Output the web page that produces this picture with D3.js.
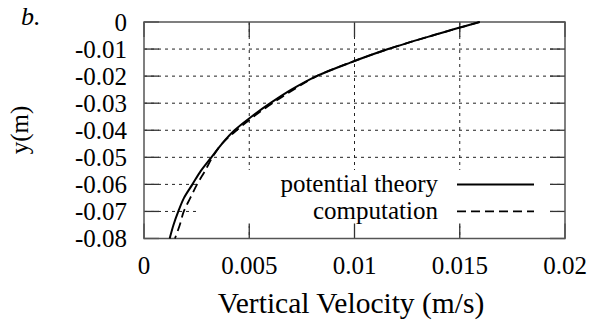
<!DOCTYPE html>
<html>
<head>
<meta charset="utf-8">
<script src="https://cdn.jsdelivr.net/npm/d3@7"></script>
<style>
  body { margin: 0; background: #fff; }
  svg text { font-family: "Liberation Serif", "DejaVu Serif", serif; }
</style>
</head>
<body>
<div id="chart"></div>
<script>
// depth (m) for both series
const depth = [0, -0.005, -0.01, -0.015, -0.02, -0.025, -0.03, -0.035, -0.04, -0.045,
               -0.05, -0.055, -0.06, -0.065, -0.07, -0.075, -0.08];
// vertical velocity (m/s)
const theory = [0.01595, 0.0137, 0.0116, 0.0098, 0.0082, 0.0070, 0.0060, 0.0051, 0.0043, 0.0037,
                0.0032, 0.0027, 0.0023, 0.0019, 0.00163, 0.0014, 0.00122];
const computation = [0.01595, 0.0137, 0.0116, 0.0098, 0.0082, 0.0071, 0.0061, 0.0052, 0.0044, 0.0037,
                     0.00325, 0.0029, 0.00252, 0.0022, 0.00189, 0.0017, 0.00147];
const xTicks = [0, 0.005, 0.01, 0.015, 0.02];
const yTicks = [0, -0.01, -0.02, -0.03, -0.04, -0.05, -0.06, -0.07, -0.08];
const legendNames = ["potential theory", "computation"];

const W = 593, H = 325;
const margin = {top: 22, right: 28, bottom: 86.5, left: 144};
const width = W - margin.left - margin.right;
const height = H - margin.top - margin.bottom;

const svg = d3.select("#chart").append("svg")
    .attr("width", W)
    .attr("height", H);

const g = svg.append("g")
    .attr("transform", `translate(${margin.left},${margin.top})`);

const x = d3.scaleLinear().domain([0, 0.02]).range([0, width]);
const y = d3.scaleLinear().domain([-0.08, 0]).range([height, 0]);

const fmt = d => d === 0 ? "0" : String(d);
const tickLen = 15;

// grid
g.selectAll(".hgrid")
    .data(yTicks.filter(d => d !== 0 && d !== -0.08))
    .join("line")
    .attr("x1", 0).attr("x2", width)
    .attr("y1", d => y(d)).attr("y2", d => y(d))
    .attr("stroke", "#222").attr("stroke-width", 1)
    .attr("stroke-dasharray", "3,4");

g.selectAll(".vgrid")
    .data(xTicks.filter(d => d !== 0 && d !== 0.02))
    .join("line")
    .attr("x1", d => x(d)).attr("x2", d => x(d))
    .attr("y1", 0).attr("y2", height)
    .attr("stroke", "#222").attr("stroke-width", 1)
    .attr("stroke-dasharray", "3,4");

// legend backdrop hides the grid
g.append("rect")
    .attr("x", 56).attr("y", 148)
    .attr("width", 348).attr("height", 56)
    .attr("fill", "#fff");

// tick marks on all four sides
const tickG = g.append("g").attr("stroke", "#333").attr("stroke-width", 1.3);
yTicks.forEach(d => {
  tickG.append("line").attr("x1", 0).attr("x2", tickLen).attr("y1", y(d)).attr("y2", y(d));
  tickG.append("line").attr("x1", width - tickLen).attr("x2", width).attr("y1", y(d)).attr("y2", y(d));
});
xTicks.forEach(d => {
  tickG.append("line").attr("x1", x(d)).attr("x2", x(d)).attr("y1", height).attr("y2", height - tickLen);
  tickG.append("line").attr("x1", x(d)).attr("x2", x(d)).attr("y1", 0).attr("y2", tickLen);
});

// frame
g.append("rect")
    .attr("width", width).attr("height", height)
    .attr("fill", "none")
    .attr("stroke", "#555").attr("stroke-width", 1.5);

// tick labels
g.selectAll(".ylab")
    .data(yTicks)
    .join("text")
    .attr("x", -17).attr("y", d => y(d))
    .attr("dy", "0.34em")
    .attr("text-anchor", "end")
    .attr("font-size", 25)
    .text(fmt);

g.selectAll(".xlab")
    .data(xTicks)
    .join("text")
    .attr("x", d => x(d)).attr("y", height + 35)
    .attr("text-anchor", "middle")
    .attr("font-size", 25)
    .text(fmt);

// lines
const line = d3.line()
    .x(d => x(d[0]))
    .y(d => y(d[1]))
    .curve(d3.curveCatmullRom);

g.append("path")
    .datum(computation.map((v, i) => [v, depth[i]]))
    .attr("fill", "none").attr("stroke", "#000").attr("stroke-width", 1.8)
    .attr("stroke-dasharray", "9,5")
    .attr("d", line);

g.append("path")
    .datum(theory.map((v, i) => [v, depth[i]]))
    .attr("fill", "none").attr("stroke", "#000").attr("stroke-width", 2)
    .attr("d", line);

// legend
const leg = g.append("g");
legendNames.forEach((name, i) => {
  const ly = y(-0.06) + i * (y(-0.07) - y(-0.06));
  leg.append("text")
    .attr("x", 294).attr("y", ly)
    .attr("dy", "0.3em")
    .attr("text-anchor", "end")
    .attr("font-size", 25)
    .text(name);
  leg.append("line")
    .attr("x1", 313).attr("x2", 390)
    .attr("y1", ly).attr("y2", ly)
    .attr("stroke", "#000").attr("stroke-width", i === 0 ? 2 : 1.8)
    .attr("stroke-dasharray", i === 0 ? null : "9,5");
});

// axis titles
svg.append("text")
    .attr("x", 351).attr("y", 313)
    .attr("text-anchor", "middle")
    .attr("font-size", 29.5)
    .text("Vertical Velocity (m/s)");

svg.append("text")
    .attr("transform", "translate(28,130) rotate(-90)")
    .attr("text-anchor", "middle")
    .attr("font-size", 25)
    .text("y(m)");

svg.append("text")
    .attr("x", 21).attr("y", 25)
    .attr("font-size", 26)
    .attr("font-style", "italic")
    .text("b.");
</script>
</body>
</html>
